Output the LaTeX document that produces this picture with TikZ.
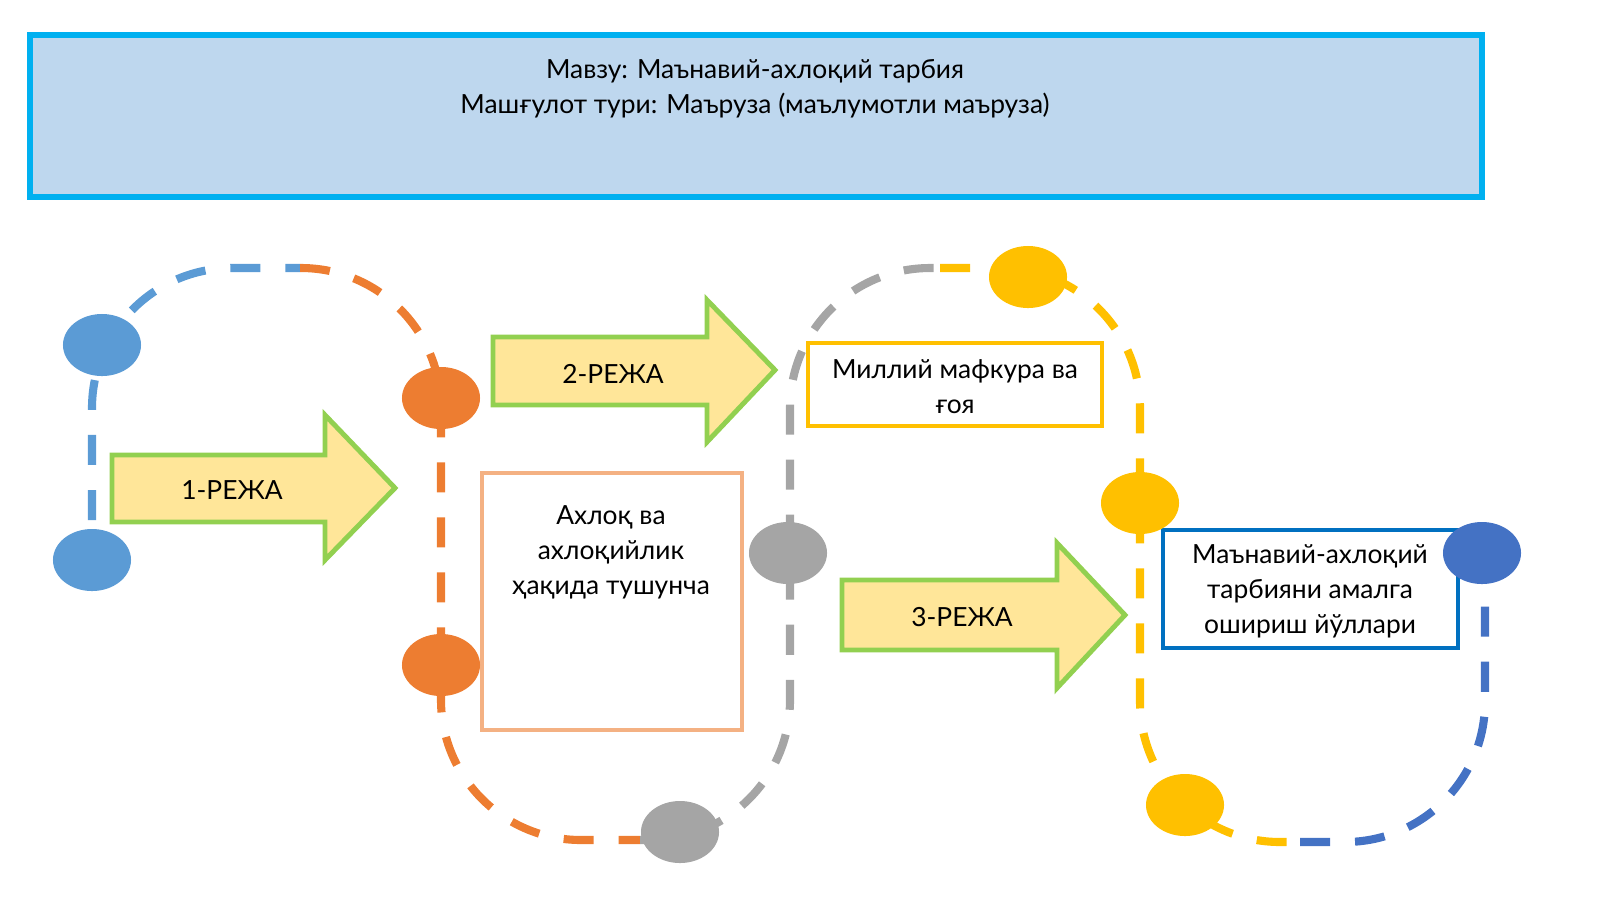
\documentclass[tikz,border=0pt]{standalone}
\usepackage{fontspec}
\setmainfont{Lato}
\definecolor{titlefill}{RGB}{190,215,238}
\definecolor{titleline}{RGB}{0,176,240}
\definecolor{dotblue}{RGB}{91,155,213}
\definecolor{dotorange}{RGB}{237,125,49}
\definecolor{dotgray}{RGB}{165,165,165}
\definecolor{dotyellow}{RGB}{255,192,0}
\definecolor{dotdark}{RGB}{68,114,196}
\definecolor{arrfill}{RGB}{255,230,153}
\definecolor{arrline}{RGB}{146,208,80}
\definecolor{boxpeach}{RGB}{244,177,131}
\definecolor{boxblue}{RGB}{0,112,192}
\tikzset{
  track/.style={line width=2.3pt,dash pattern=on 0.3cm off 0.25cm,rounded corners=1.4cm},
  dot/.style={ellipse,minimum width=0.78cm,minimum height=0.62cm,inner sep=0pt,fill=#1},
  planarrow/.style={fill=arrfill,draw=arrline,line width=1.4pt,line join=miter},
  info/.style={draw=#1,line width=1.4pt,fill=white},
  lbl/.style={font=\fontsize{7.5}{10}\selectfont,align=center}
}
\usetikzlibrary{shapes.geometric}
\begin{document}
\begin{tikzpicture}[x=0.01cm,y=-0.01cm]
  \useasboundingbox (0,0) rectangle (1600,899);
  % title
  \draw[fill=titlefill,draw=titleline,line width=1.7pt] (30,35) rectangle (1482,197);
  \node[lbl] (title) at (755,89) {Мавзу: Маънавий-ахлоқий тарбия\\Машғулот тури: Маъруза (маълумотли маъруза)};
  % the dashed track
  \draw[track,dotblue] (92,520) -- (92,268) -- (300,268);
  \draw[track,dotorange] (300,268) -- (441,268) -- (441,840) -- (640,840);
  \draw[track,dotgray] (640,840) -- (790,840) -- (790,268) -- (940,268);
  \draw[track,dotyellow] (940,268) -- (1140,268) -- (1140,842) -- (1300,842);
  \draw[track,dotdark] (1300,842) -- (1485,842) -- (1485,590);
  % arrows
  \draw[planarrow] (112,455) -- (325,455) -- (325,415) -- (395,488) -- (325,560) -- (325,522) -- (112,522) -- cycle;
  \node[lbl] (r1) at (232,490) {1-РЕЖА};
  \draw[planarrow] (493,337) -- (707,337) -- (707,300) -- (775,370) -- (707,442) -- (707,405) -- (493,405) -- cycle;
  \node[lbl] (r2) at (613,374) {2-РЕЖА};
  \draw[planarrow] (842,580) -- (1057,580) -- (1057,543) -- (1125,615) -- (1057,688) -- (1057,650) -- (842,650) -- cycle;
  \node[lbl] (r3) at (962,617) {3-РЕЖА};
  % boxes
  \draw[info=boxpeach] (482,473) rectangle (742,730);
  \node[lbl,anchor=north] (b1) at (611,493) {Ахлоқ ва\\ахлоқийлик\\ҳақида тушунча};
  \draw[info=dotyellow] (808,343) rectangle (1102,426);
  \node[lbl] (b2) at (955,387) {Миллий мафкура ва\\ғоя};
  \draw[info=boxblue] (1163,530) rectangle (1458,648);
  \node[lbl] (b3) at (1310,591) {Маънавий-ахлоқий\\тарбияни амалга\\ошириш йўллари};
  % dots
  \node[dot=dotblue] (d1) at (102,345) {};
  \node[dot=dotblue] (d2) at (92,560) {};
  \node[dot=dotorange] (d3) at (441,398) {};
  \node[dot=dotorange] (d4) at (441,665) {};
  \node[dot=dotgray] (d5) at (788,553) {};
  \node[dot=dotgray] (d6) at (680,832) {};
  \node[dot=dotyellow] (d7) at (1028,277) {};
  \node[dot=dotyellow] (d8) at (1140,503) {};
  \node[dot=dotyellow] (d9) at (1185,805) {};
  \node[dot=dotdark] (d10) at (1482,553) {};
\end{tikzpicture}
\end{document}
